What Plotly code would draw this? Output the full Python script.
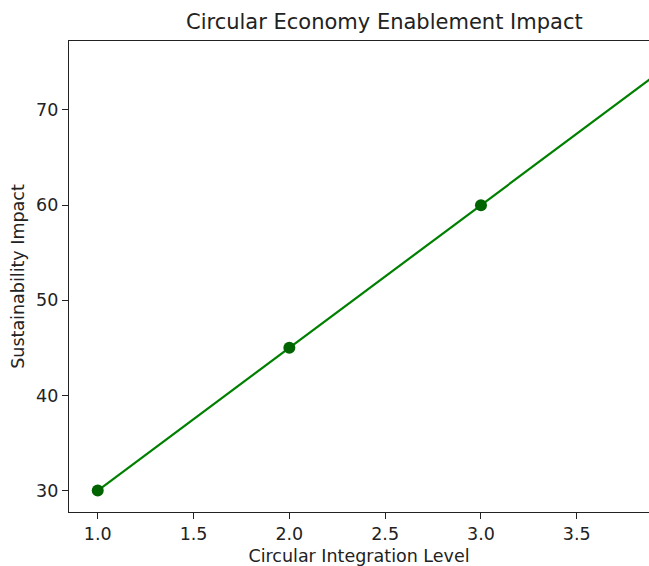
import plotly.graph_objects as go

levels = [1, 2, 3, 4]
impact = [30, 45, 60, 75]
x_ticks = [1.0, 1.5, 2.0, 2.5, 3.0, 3.5]
y_ticks = [30, 40, 50, 60, 70]

fig = go.Figure()
fig.add_trace(go.Scatter(
    x=levels, y=impact, mode="lines+markers",
    line=dict(color="#008000", width=2.2),
    marker=dict(color="#006400", size=12),
    cliponaxis=True, showlegend=False,
))

font = dict(family="DejaVu Sans", size=17.5, color="#222222")
fig.update_layout(
    width=649, height=566,
    margin=dict(l=69, r=0, t=41, b=54),
    paper_bgcolor="white", plot_bgcolor="white",
    font=font,
    xaxis=dict(
        range=[0.85, 3.877], tickvals=x_ticks, tickformat=".1f",
        showgrid=False, zeroline=False,
        showline=True, linecolor="#222222", linewidth=1.3, mirror=True,
        ticks="outside", ticklen=6, tickcolor="#222222",
        title=dict(text="Circular Integration Level", font=font, standoff=6),
    ),
    yaxis=dict(
        range=[27.75, 77.25], tickvals=y_ticks,
        showgrid=False, zeroline=False,
        showline=True, linecolor="#222222", linewidth=1.3, mirror=False,
        ticks="outside", ticklen=6, tickcolor="#222222",
        title=dict(text="Sustainability Impact", font=font, standoff=6),
    ),
    annotations=[dict(
        text="Circular Economy Enablement Impact",
        xref="paper", yref="paper", x=(384 - 69) / 580, y=1,
        xanchor="center", yanchor="bottom", yshift=5, showarrow=False,
        font=dict(family="DejaVu Sans", size=21, color="#222222"),
    )],
)

fig.write_html(
    "out.html",
    config={"displayModeBar": False},
    post_script="document.body.style.margin='0';document.body.style.overflow='hidden';",
)
